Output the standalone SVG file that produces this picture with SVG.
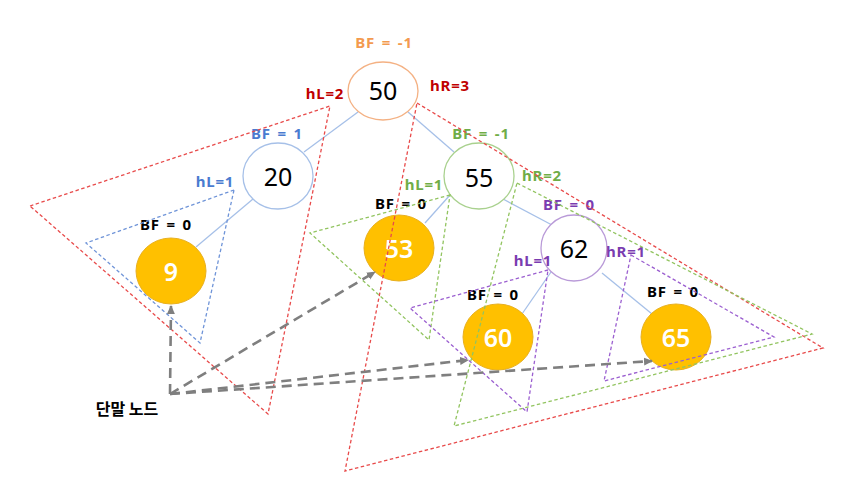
<svg xmlns="http://www.w3.org/2000/svg" width="861" height="492" viewBox="0 0 861 492">
<style>
.edge{stroke:#a6c0e8;stroke-width:1.3;fill:none}
.num{font-family:"Noto Sans","Open Sans","Liberation Sans",sans-serif;font-size:25px;text-anchor:middle;dominant-baseline:central}
.lbl{font-family:"Noto Sans","Liberation Sans",sans-serif;font-size:15px;font-weight:bold;text-anchor:middle;dominant-baseline:central;letter-spacing:0.8px;word-spacing:2px}
.leaf ellipse{fill:#ffc000;stroke:#e8b020;stroke-width:1}
.leaf text.num{fill:#ffffff;font-weight:600}
.inner text.num{fill:#000}
.tri{fill:none;stroke-width:1.3;stroke-dasharray:3.5 2.5}
.arr{fill:none;stroke:#7f7f7f;stroke-width:2.6;stroke-dasharray:10 6;marker-end:url(#ah)}
</style>
<defs>
<marker id="ah" markerUnits="userSpaceOnUse" markerWidth="10" markerHeight="10" refX="8" refY="5" orient="auto">
<path d="M0,1 L9,5 L0,9 Z" fill="#7f7f7f"/>
</marker>
</defs>
<rect width="861" height="492" fill="#ffffff"/>
<g id="edges">
<line class="edge" x1="358" y1="112" x2="304" y2="152"/>
<line class="edge" x1="408" y1="112" x2="454" y2="152"/>
<line class="edge" x1="253" y1="199" x2="196" y2="247"/>
<line class="edge" x1="450" y1="195" x2="425" y2="223"/>
<line class="edge" x1="503" y1="199" x2="552" y2="225"/>
<line class="edge" x1="551" y1="272" x2="522" y2="314"/>
<line class="edge" x1="602" y1="273" x2="652" y2="314"/>
</g>
<g id="node-50" class="inner">
<ellipse cx="383" cy="91" rx="35" ry="29" fill="#fff" stroke="#f4b183" stroke-width="1.3"/>
<text class="num" x="383" y="90">50</text>
<text class="lbl" x="384" y="42" fill="#f39a4f">BF = -1</text>
<text class="lbl" x="325" y="93" fill="#c00000">hL=2</text>
<text class="lbl" x="450" y="85" fill="#c00000">hR=3</text>
</g>
<g id="node-20" class="inner">
<ellipse cx="278" cy="176" rx="35" ry="33" fill="#fff" stroke="#a6c0e8" stroke-width="1.3"/>
<text class="num" x="278" y="176">20</text>
<text class="lbl" x="277" y="133" fill="#4a7bd0">BF = 1</text>
<text class="lbl" x="215" y="181" fill="#4a7bd0">hL=1</text>
</g>
<g id="node-55" class="inner">
<ellipse cx="479" cy="176" rx="35" ry="33" fill="#fff" stroke="#a9d18e" stroke-width="1.3"/>
<text class="num" x="479" y="177">55</text>
<text class="lbl" x="481" y="133" fill="#70ad47">BF = -1</text>
<text class="lbl" x="424" y="184" fill="#70ad47">hL=1</text>
<text class="lbl" x="542" y="175" fill="#70ad47">hR=2</text>
</g>
<g id="node-62" class="inner">
<ellipse cx="574" cy="248" rx="33" ry="33" fill="#fff" stroke="#b99ad8" stroke-width="1.3"/>
<text class="num" x="574" y="248">62</text>
<text class="lbl" x="569" y="204" fill="#7a3cb0">BF = 0</text>
<text class="lbl" x="533" y="260" fill="#7a3cb0">hL=1</text>
<text class="lbl" x="626" y="251" fill="#7a3cb0">hR=1</text>
</g>
<g id="node-9" class="leaf">
<ellipse cx="171" cy="271" rx="35" ry="33"/>
<text class="num" x="171" y="271">9</text>
<text class="lbl" x="166" y="224" style="fill:#000">BF = 0</text>
</g>
<g id="node-53" class="leaf">
<ellipse cx="399" cy="248" rx="35" ry="33"/>
<text class="num" x="399" y="248">53</text>
<text class="lbl" x="401" y="203" style="fill:#000">BF = 0</text>
</g>
<g id="node-60" class="leaf">
<ellipse cx="498" cy="337" rx="35" ry="33"/>
<text class="num" x="498" y="337">60</text>
<text class="lbl" x="493" y="294" style="fill:#000">BF = 0</text>
</g>
<g id="node-65" class="leaf">
<ellipse cx="676" cy="337" rx="35" ry="33"/>
<text class="num" x="676" y="337">65</text>
<text class="lbl" x="673" y="291" style="fill:#000">BF = 0</text>
</g>
<g id="subtrees">
<polygon class="tri" stroke="#e84a4a" points="30,206 330,106 268,414"/>
<polygon class="tri" stroke="#e84a4a" points="417,103 823,348 345,471"/>
<polygon class="tri" stroke="#6f94d8" points="234,190 86,243 200,343"/>
<polygon class="tri" stroke="#92c460" points="450,195 310,233 429,340"/>
<polygon class="tri" stroke="#92c460" points="517,183 812,334 454,426"/>
<polygon class="tri" stroke="#9b5fd0" points="548,270 410,308 527,412"/>
<polygon class="tri" stroke="#9b5fd0" points="631,255 774,337 604,381"/>
</g>
<g id="leaf-arrows">
<line class="arr" x1="170" y1="394" x2="171" y2="306"/>
<line class="arr" x1="170" y1="394" x2="375" y2="272"/>
<line class="arr" x1="170" y1="394" x2="468" y2="360"/>
<line class="arr" x1="170" y1="394" x2="652" y2="361"/>
</g>
<g id="label-leaf">
<text x="127" y="408" font-family="'Noto Sans CJK KR','Noto Sans',sans-serif" font-size="16" font-weight="bold" text-anchor="middle" dominant-baseline="central" fill="#000">단말 노드</text>
</g>
</svg>
